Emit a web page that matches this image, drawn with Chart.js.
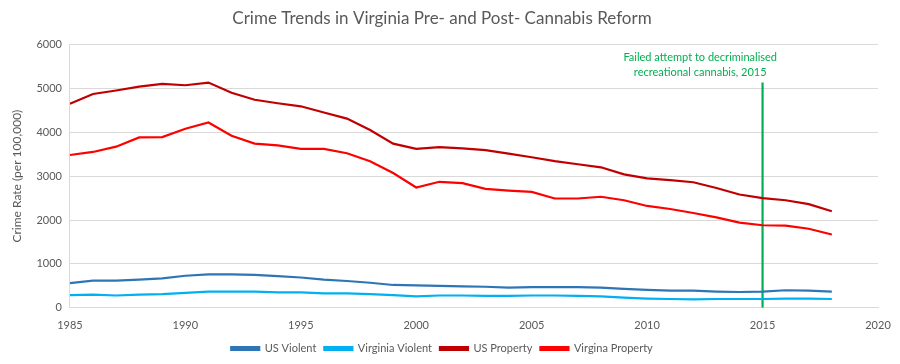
<!DOCTYPE html>
<html>
<head>
<meta charset="utf-8">
<script src="https://cdn.jsdelivr.net/npm/chart.js@4"></script>
<style>
  html, body { margin: 0; padding: 0; background: #fff; }
  #wrap { width: 900px; height: 364px; }
</style>
</head>
<body>
<div id="wrap"><canvas id="crime"></canvas></div>
<script>
const years = [1985,1986,1987,1988,1989,1990,1991,1992,1993,1994,1995,1996,1997,1998,1999,2000,2001,2002,2003,2004,2005,2006,2007,2008,2009,2010,2011,2012,2013,2014,2015,2016,2017,2018];
const usViolent = [560,620,620,640,670,730,760,760,750,720,690,640,610,570,520,510,500,490,480,460,470,470,470,460,430,410,390,390,370,360,370,400,390,370];
const vaViolent = [290,300,280,300,310,340,370,370,370,350,350,330,330,310,290,260,280,280,270,270,280,280,270,260,230,210,200,190,200,200,200,210,210,200];
const usProperty = [4650,4870,4950,5040,5100,5070,5130,4900,4740,4660,4590,4450,4310,4050,3740,3620,3660,3630,3590,3510,3430,3340,3270,3200,3040,2950,2910,2860,2730,2580,2500,2450,2360,2200];
const vaProperty = [3480,3550,3670,3880,3890,4080,4220,3920,3740,3700,3620,3620,3520,3340,3070,2740,2870,2840,2710,2670,2640,2490,2490,2530,2450,2320,2250,2160,2060,1940,1880,1870,1800,1670];

const reformYear = 2015;
const reformTop = 5130;
const noteLines = ['Failed attempt to decriminalised', 'recreational cannabis, 2015'];

const pts = arr => arr.map((v, i) => ({ x: years[i], y: v }));
const txt = '#595959';
const font = 'Lato, "Liberation Sans", sans-serif';

// draws the green note above the 2015 line
const notePlugin = {
  id: 'note',
  afterDatasetsDraw(chart) {
    const { ctx, scales } = chart;
    const cx = scales.x.getPixelForValue(reformYear - 2.7);
    const y0 = scales.y.getPixelForValue(reformTop) - 25;
    ctx.save();
    ctx.fillStyle = '#00B050';
    ctx.font = '11px ' + font;
    ctx.textAlign = 'center';
    ctx.textBaseline = 'middle';
    noteLines.forEach((l, i) => ctx.fillText(l, cx, y0 + i * 15));
    ctx.restore();
  }
};

new Chart(document.getElementById('crime'), {
  type: 'line',
  data: {
    datasets: [
      { label: 'US Violent', data: pts(usViolent), borderColor: '#2E75B6', backgroundColor: '#2E75B6' },
      { label: 'Virginia Violent', data: pts(vaViolent), borderColor: '#00B0F0', backgroundColor: '#00B0F0' },
      { label: 'US Property', data: pts(usProperty), borderColor: '#C00000', backgroundColor: '#C00000' },
      { label: 'Virgina Property', data: pts(vaProperty), borderColor: '#FF0000', backgroundColor: '#FF0000' },
      { label: 'reform', data: [{ x: reformYear, y: 0 }, { x: reformYear, y: reformTop }], borderColor: '#00B050', backgroundColor: '#00B050' }
    ]
  },
  options: {
    responsive: true,
    maintainAspectRatio: false,
    animation: false,
    layout: { padding: { left: 6, right: 22, top: 0, bottom: 0 } },
    elements: {
      line: { borderWidth: 2.2, tension: 0 },
      point: { radius: 0 }
    },
    scales: {
      x: {
        type: 'linear',
        min: 1985,
        max: 2020,
        ticks: { stepSize: 5, color: txt, font: { family: font, size: 11 }, callback: v => String(v) },
        grid: { display: false },
        border: { color: '#d9d9d9' }
      },
      y: {
        min: 0,
        max: 6000,
        ticks: { stepSize: 1000, color: txt, font: { family: font, size: 11 }, padding: 8, callback: v => String(v) },
        grid: { color: '#d9d9d9', drawTicks: false },
        border: { color: '#d9d9d9' },
        title: { display: true, text: 'Crime Rate (per 100,000)', color: txt, font: { family: font, size: 12 } }
      }
    },
    plugins: {
      title: {
        display: true,
        text: 'Crime Trends in Virginia Pre- and Post- Cannabis Reform',
        color: txt,
        font: { family: font, size: 17, weight: 'normal' },
        padding: { top: 8, bottom: 16 }
      },
      legend: {
        position: 'bottom',
        labels: {
          color: txt,
          font: { family: font, size: 11 },
          boxWidth: 28,
          boxHeight: 3,
          padding: 8,
          filter: item => item.text !== 'reform'
        }
      },
      tooltip: { enabled: false }
    }
  },
  plugins: [notePlugin]
});
</script>
</body>
</html>
